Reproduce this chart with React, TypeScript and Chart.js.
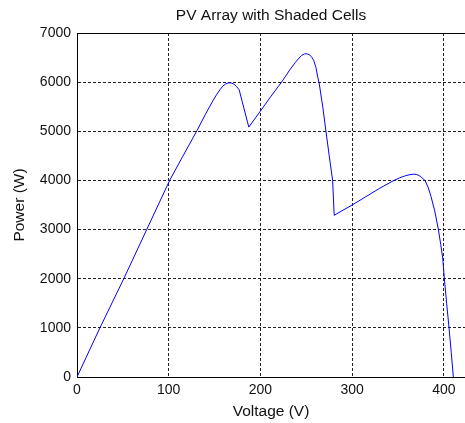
import React, { useEffect, useRef } from 'react';
import { Chart, registerables } from 'chart.js';

Chart.register(...registerables);

// Voltage (V) and Power (W)
const voltage = [
  0, 25, 51, 76, 101, 115, 131, 140, 148, 152, 156, 159, 162, 165, 168, 171, 174, 176.8, 187.3,
  199.5, 211, 223, 232, 238, 242, 245, 248, 250.5, 253, 255.5, 258, 260.5, 262.5, 264, 268, 271.4, 275, 278.7, 280.4,
  290, 300, 315, 330, 345, 352, 358, 363, 367, 370, 373, 376, 379.4, 383, 386, 390, 394, 396.5, 398.7,
  400.5, 403, 405.6, 408, 410.3,
];
const power = [
  0, 1000, 2000, 3000, 4000, 4480, 5020, 5345, 5615, 5740, 5850, 5920, 5962, 5985, 5985, 5960, 5910, 5844, 5085,
  5400, 5700, 6000, 6250, 6400, 6490, 6545, 6575, 6578, 6560, 6520, 6445, 6300, 6100, 5980, 5490, 5000, 4500, 4000, 3290,
  3395, 3500, 3670, 3840, 3995, 4055, 4095, 4118, 4127, 4122, 4100, 4055, 4000, 3850, 3670, 3380, 3000, 2700, 2420,
  2000, 1500, 1000, 500, 0,
];
const xTicks = [0, 100, 200, 300, 400];
const yTicks = [0, 1000, 2000, 3000, 4000, 5000, 6000, 7000];

const titleText = 'PV Array with Shaded Cells';
const xLabel = 'Voltage (V)';
const yLabel = 'Power (W)';

const FONT = "'Liberation Sans', Arial, sans-serif";

export default function App() {
  const ref = useRef<HTMLCanvasElement>(null);

  useEffect(() => {
    document.body.style.margin = '0';
    const canvas = ref.current!;
    const framePlugin = {
      id: 'frame',
      afterDraw(chart: any) {
        const { ctx, chartArea } = chart;
        ctx.save();
        ctx.strokeStyle = '#000';
        ctx.lineWidth = 1;
        ctx.beginPath();
        ctx.moveTo(chartArea.left, chartArea.top + 0.5);
        ctx.lineTo(chartArea.right, chartArea.top + 0.5);
        ctx.stroke();
        ctx.fillStyle = '#111';
        ctx.font = `15.5px ${FONT}`;
        ctx.textAlign = 'center';
        ctx.textBaseline = 'middle';
        ctx.fillText(titleText, (chartArea.left + chartArea.right) / 2, 16);
        ctx.restore();
      },
    };

    const chart = new Chart(canvas, {
      type: 'scatter',
      data: {
        datasets: [
          {
            data: voltage.map((v, i) => ({ x: v, y: power[i] })),
            showLine: true,
            borderColor: 'rgb(0,0,255)',
            borderWidth: 1,
            pointRadius: 0,
            tension: 0,
          },
        ],
      },
      options: {
        animation: false,
        responsive: false,
        layout: { padding: { top: 33, left: 0, right: 0, bottom: 0 } },
        plugins: {
          legend: { display: false },
          tooltip: { enabled: false },
          title: { display: false },
        },
        scales: {
          x: {
            type: 'linear',
            min: 0,
            max: 423,
            afterBuildTicks: (s: any) => {
              s.ticks = xTicks.map((v) => ({ value: v }));
            },
            afterFit: (s: any) => {
              s.height = 46;
            },
            grid: { color: '#222', lineWidth: 1, drawTicks: false },
            border: { display: true, color: '#000', width: 1, dash: [3, 2] },
            ticks: {
              color: '#111',
              padding: 5,
              maxRotation: 0,
              font: { family: FONT, size: 14 },
              callback: (v: any) => String(v),
            },
            title: {
              display: true,
              text: xLabel,
              color: '#111',
              font: { family: FONT, size: 15.5, lineHeight: 1 },
              padding: { top: 0, bottom: 4 },
            },
          },
          y: {
            type: 'linear',
            min: 0,
            max: 7000,
            afterBuildTicks: (s: any) => {
              s.ticks = yTicks.map((v) => ({ value: v }));
            },
            afterFit: (s: any) => {
              s.width = 77;
            },
            grid: { color: '#222', lineWidth: 1, drawTicks: false },
            border: { display: true, color: '#000', width: 1, dash: [3, 2] },
            ticks: {
              color: '#111',
              padding: 6,
              font: { family: FONT, size: 14 },
              callback: (v: any) => String(v),
            },
            title: {
              display: true,
              text: yLabel,
              color: '#111',
              font: { family: FONT, size: 15.5, lineHeight: 1 },
              padding: { top: 12, bottom: 0 },
            },
          },
        },
      },
      plugins: [framePlugin],
    });
    return () => chart.destroy();
  }, []);

  return (
    <div style={{ width: 465, height: 423, background: '#fff' }}>
      <canvas ref={ref} width={465} height={423} style={{ display: 'block' }} />
    </div>
  );
}
